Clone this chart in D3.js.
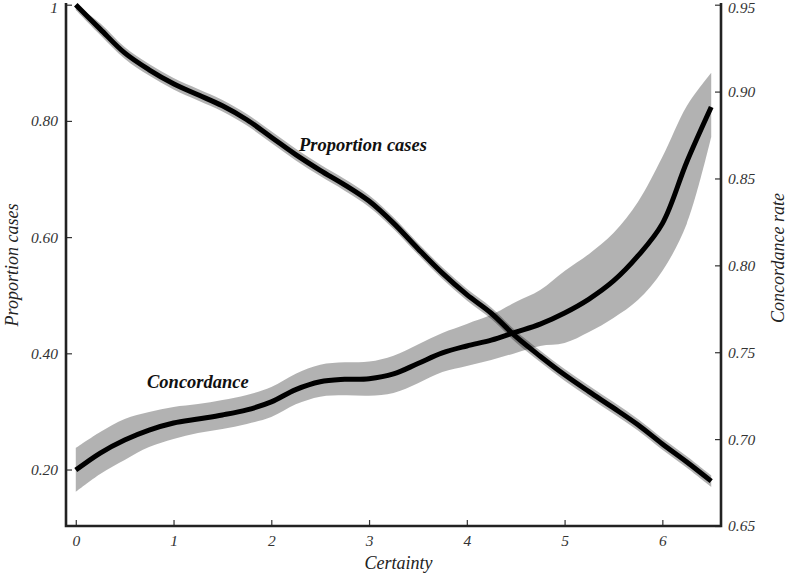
<!DOCTYPE html>
<html>
<head>
<meta charset="UTF-8">
<title>Certainty: proportion of cases and concordance</title>
<script src="https://cdn.jsdelivr.net/npm/d3@7"></script>
<style>
	body { margin: 0; background: #fff; }
	svg { display: block; }
	svg text { font-family: "Liberation Serif", "Times New Roman", Times, serif; }
	.tick text { font-size: 15.5px; font-style: italic; fill: #333; }
	.tick line { stroke: #333; stroke-width: 1.2px; }
	.frame { stroke: #222; stroke-width: 2.6px; fill: none; }
	.title { font-size: 18px; font-style: italic; fill: #222; }
	.label { font-size: 18.5px; font-style: italic; font-weight: bold; fill: #111; }
	.band { fill: #000; fill-opacity: 0.3; stroke: none; }
	.curve { fill: none; stroke: #000; stroke-width: 5px; stroke-linejoin: round; }
</style>
</head>
<body>
<svg id="chart" width="787" height="575"></svg>
<script>
	// certainty grid
	const certainty = [0, 0.25, 0.5, 0.75, 1, 1.25, 1.5, 1.75, 2, 2.25, 2.5, 2.75, 3, 3.25,
		3.5, 3.75, 4, 4.25, 4.5, 4.75, 5, 5.25, 5.5, 5.75, 6, 6.25, 6.5];

	// proportion of cases (left axis)
	const propCases = [1.000, 0.958, 0.917, 0.888, 0.864, 0.845, 0.826, 0.802, 0.772, 0.742,
		0.715, 0.690, 0.662, 0.624, 0.580, 0.538, 0.501, 0.469, 0.429, 0.395, 0.363, 0.334,
		0.306, 0.277, 0.244, 0.213, 0.180];
	const propLow = [0.991, 0.948, 0.907, 0.878, 0.854, 0.835, 0.816, 0.792, 0.762, 0.732,
		0.705, 0.680, 0.652, 0.614, 0.570, 0.528, 0.491, 0.459, 0.419, 0.385, 0.353, 0.324,
		0.296, 0.267, 0.234, 0.203, 0.170];
	const propHigh = [1.000, 0.968, 0.927, 0.898, 0.874, 0.855, 0.836, 0.812, 0.782, 0.752,
		0.725, 0.700, 0.672, 0.634, 0.590, 0.548, 0.511, 0.479, 0.439, 0.405, 0.373, 0.344,
		0.316, 0.287, 0.254, 0.223, 0.190];

	// concordance rate (right axis)
	const concordance = [0.6822, 0.6920, 0.6995, 0.7052, 0.7093, 0.7116, 0.7139, 0.7168,
		0.7214, 0.7285, 0.7330, 0.7344, 0.7348, 0.7375, 0.7435, 0.7496, 0.7536, 0.7570,
		0.7616, 0.7662, 0.7726, 0.7806, 0.7910, 0.8054, 0.8240, 0.8595, 0.8911];
	const concLow = [0.6696, 0.6799, 0.6880, 0.6954, 0.7001, 0.7035, 0.7058, 0.7087,
		0.7127, 0.7200, 0.7244, 0.7252, 0.7250, 0.7266, 0.7322, 0.7386, 0.7421, 0.7455,
		0.7496, 0.7536, 0.7553, 0.7616, 0.7697, 0.7800, 0.7968, 0.8239, 0.8738];
	const concHigh = [0.6949, 0.7041, 0.7116, 0.7156, 0.7185, 0.7202, 0.7225, 0.7254,
		0.7300, 0.7376, 0.7428, 0.7442, 0.7446, 0.7480, 0.7545, 0.7611, 0.7663, 0.7715,
		0.7789, 0.7858, 0.7968, 0.8066, 0.8186, 0.8365, 0.8623, 0.8917, 0.9109];

	const xTicks = [0, 1, 2, 3, 4, 5, 6];
	const leftTicks = [0.2, 0.4, 0.6, 0.8, 1];
	const rightTicks = [0.65, 0.70, 0.75, 0.80, 0.85, 0.90, 0.95];

	const plotLeft = 66, plotRight = 721, plotTop = 4.7, plotBottom = 526;

	const svg = d3.select('#chart');

	const x = d3.scaleLinear().domain([-0.1, 6.6]).range([plotLeft, plotRight]);
	const yL = d3.scaleLinear().domain([0.1028, 1]).range([plotBottom, plotTop]);
	const yR = d3.scaleLinear().domain([0.65, 0.95]).range([plotBottom, plotTop]);

	const rows = certainty.map((c, i) => ({
		c: c,
		p: propCases[i], pLo: propLow[i], pHi: propHigh[i],
		k: concordance[i], kLo: concLow[i], kHi: concHigh[i]
	}));

	const curve = d3.curveCatmullRom.alpha(0.5);

	// bands
	svg.append('path').datum(rows).attr('class', 'band')
		.attr('d', d3.area().curve(curve)
			.x(d => x(d.c)).y0(d => yR(d.kLo)).y1(d => yR(d.kHi)));
	svg.append('path').datum(rows).attr('class', 'band')
		.attr('d', d3.area().curve(curve)
			.x(d => x(d.c)).y0(d => yL(d.pLo)).y1(d => yL(d.pHi)));

	// lines
	svg.append('path').datum(rows).attr('class', 'curve')
		.attr('d', d3.line().curve(curve).x(d => x(d.c)).y(d => yR(d.k)));
	svg.append('path').datum(rows).attr('class', 'curve')
		.attr('d', d3.line().curve(curve).x(d => x(d.c)).y(d => yL(d.p)));

	// axes (ticks point inward)
	const gx = svg.append('g').attr('transform', `translate(0,${plotBottom})`)
		.call(d3.axisBottom(x).tickValues(xTicks).tickFormat(d3.format('d'))
			.tickSize(-6).tickPadding(8));
	const gl = svg.append('g').attr('transform', `translate(${plotLeft},0)`)
		.call(d3.axisLeft(yL).tickValues(leftTicks)
			.tickFormat(d => d === 1 ? '1' : d.toFixed(2))
			.tickSize(-6).tickPadding(8));
	const gr = svg.append('g').attr('transform', `translate(${plotRight},0)`)
		.call(d3.axisRight(yR).tickValues(rightTicks)
			.tickFormat(d => d.toFixed(2))
			.tickSize(-6).tickPadding(7));
	[gx, gl, gr].forEach(g => {
		g.select('.domain').remove();
		g.attr('font-family', null).attr('font-size', null);
	});
	gx.selectAll('.tick text').attr('y', 20).attr('dy', 0);
	// keep the topmost labels inside the picture
	gl.selectAll('.tick text').filter(d => d === 1).attr('dy', '0.5em');
	gr.selectAll('.tick text').filter(d => d === 0.95).attr('dy', '0.5em');

	// frame: left, bottom, right (no top)
	svg.append('path').attr('class', 'frame')
		.attr('d', `M${plotLeft},3 L${plotLeft},${plotBottom} L${plotRight},${plotBottom} L${plotRight},3`);

	// titles
	svg.append('text').attr('class', 'title')
		.attr('x', (plotLeft + plotRight) / 2 + 5).attr('y', 569)
		.attr('text-anchor', 'middle').text('Certainty');
	svg.append('text').attr('class', 'title')
		.attr('transform', 'translate(18,265) rotate(-90)')
		.attr('text-anchor', 'middle').text('Proportion cases');
	svg.append('text').attr('class', 'title')
		.attr('transform', 'translate(784,258) rotate(-90)')
		.attr('text-anchor', 'middle').text('Concordance rate');

	// in-plot labels
	svg.append('text').attr('class', 'label')
		.attr('x', 299).attr('y', 151).text('Proportion cases');
	svg.append('text').attr('class', 'label')
		.attr('x', 147).attr('y', 388).text('Concordance');
</script>
</body>
</html>
